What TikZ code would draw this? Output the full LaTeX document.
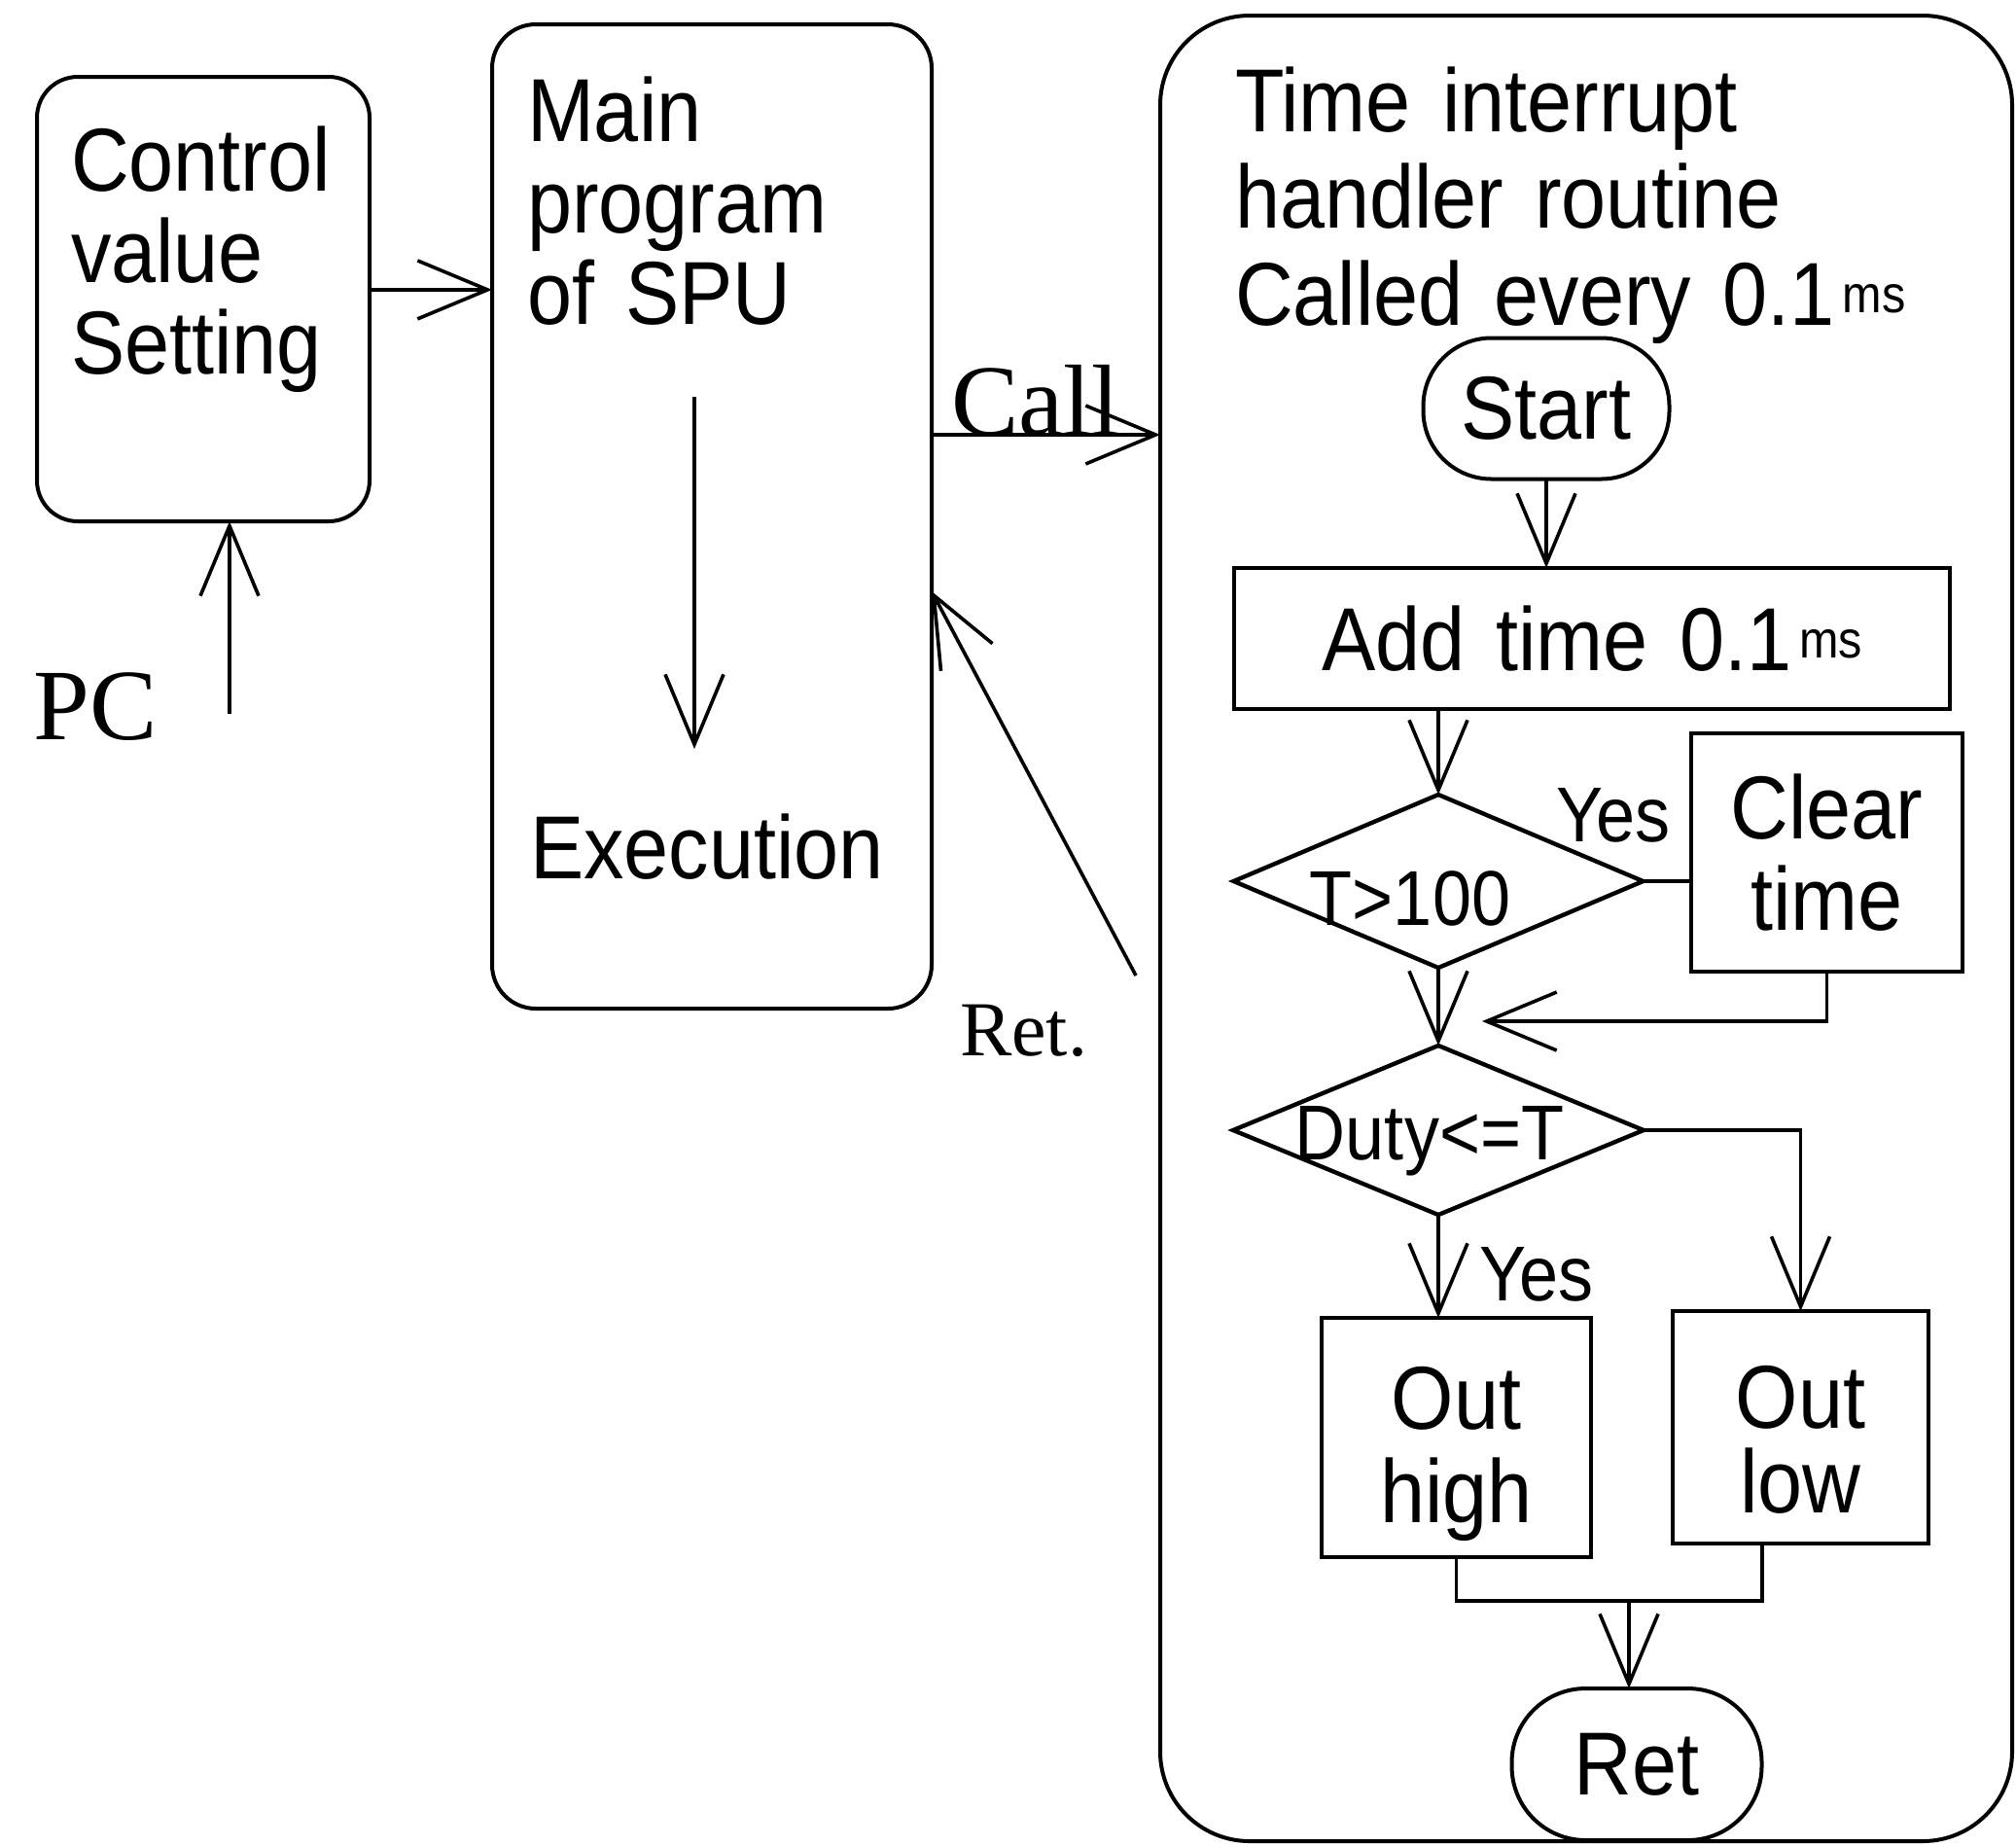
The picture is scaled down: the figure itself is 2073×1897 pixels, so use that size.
\documentclass[tikz,border=0pt]{standalone}
\usepackage{fontspec}
\setmainfont[FakeStretch=0.9,WordSpace=1.4]{Liberation Sans}
\newfontfamily\labelserif{Liberation Serif}
\usetikzlibrary{arrows.meta,shapes.geometric}
% small raised unit after a time value
\newcommand\msunit{\hspace{2pt}\raisebox{3.25pt}{\fontsize{13.5}{14}\selectfont ms}}

\begin{document}
\begin{tikzpicture}[x=0.25pt,y=-0.25pt]
\tikzset{
  box/.style={draw, line width=1pt, inner sep=0pt, outer sep=0pt},
  rbox/.style={box, rounded corners=#1},
  decision/.style={diamond, draw, line width=1.1pt, inner sep=0pt, outer sep=0pt},
  flow/.style={line width=0.9pt},
  arr/.style={flow, -{Straight Barb[length=18pt,width=15pt]}},
  big/.style={font=\fontsize{23}{23.6}\selectfont},
  mid/.style={font=\fontsize{20}{21}\selectfont},
  lbl/.style={inner sep=0pt, outer sep=0pt},
  serifbig/.style={font=\labelserif\fontsize{26}{28}\selectfont},
  serifsmall/.style={font=\labelserif\fontsize{20}{22}\selectfont},
}
\useasboundingbox (0,0) rectangle (2073,1897);

% ---- outer blocks ----
\node[rbox=10.5pt, minimum width=85.5pt, minimum height=114.25pt] (ctrl) at (209,307.5) {};
\node[rbox=11.25pt, minimum width=113pt, minimum height=253pt] (main) at (732,531) {};
\node[rbox=23pt, minimum width=219pt, minimum height=469.25pt] (isr) at (1631,954.5) {};

% ---- interrupt routine flowchart ----
\node[rbox=17.5pt, big, minimum width=63.25pt, minimum height=36.25pt] (start) at (1590,420) {Start};
\node[box, big, minimum width=184pt, minimum height=36.25pt] (add) at (1637,656.5) {Add time 0.1\msunit};
\node[decision, minimum width=105.25pt, minimum height=44.5pt] (d1) at (1479,906) {};
\node[box, big, align=center, minimum width=69.75pt, minimum height=61.25pt] (clear) at (1878.5,876.5) {Clear\\time};
\node[decision, minimum width=105.5pt, minimum height=43.5pt] (d2) at (1479,1162) {};
\node[box, minimum width=69.25pt, minimum height=61.5pt] (high) at (1497.5,1478) {};
\node[box, minimum width=65.75pt, minimum height=59.75pt] (low) at (1851.5,1467.5) {};
\node[rbox=19pt, big, minimum width=64.25pt, minimum height=39pt] (ret) at (1683,1814) {Ret};

% ---- texts ----
\node[lbl, big, align=left, anchor=north west] (ctrltxt) at (73,116) {\rule{0pt}{20pt}Control\\value\\Setting};
\node[lbl, big, align=left, anchor=north west] (maintxt) at (542,65) {\rule{0pt}{20pt}Main\\program\\of SPU};
\node[lbl, big, anchor=base west] (exec) at (545,903) {Execution};
\node[lbl, font=\fontsize{23}{24.9}\selectfont, align=left, anchor=north west] (title) at (1270,55)
  {\rule{0pt}{20pt}Time interrupt\\handler routine\\Called every 0.1\msunit};
\node[lbl, mid, anchor=base] (cond1) at (1450,951) {T>100};
\node[lbl, mid, anchor=base west] (yes1) at (1600,865) {Yes};
\node[lbl, mid, anchor=base] (cond2) at (1470,1192) {Duty<=T};
\node[lbl, mid, anchor=base west] (yes2) at (1521,1337) {Yes};
\node[lbl, font=\fontsize{23}{24}\selectfont, align=center, anchor=north] (hightxt) at (1497.5,1389) {\rule{0pt}{20pt}Out\\high};
\node[lbl, font=\fontsize{23}{21.75}\selectfont, align=center, anchor=north] (lowtxt) at (1851.5,1388) {\rule{0pt}{20pt}Out\\low};
\node[lbl, serifbig, anchor=base west] (pc) at (35,760) {PC};
\node[lbl, serifbig, anchor=base west] (call) at (978,447) {Call};
\node[lbl, serifsmall, anchor=base west] (rettxt) at (987,1085) {Ret.};

% ---- connectors ----
\draw[arr] ([yshift=2.4pt]ctrl.east) -- ([yshift=2.4pt]ctrl.east -| main.west);
\coordinate (pcfoot) at (236,734);
\draw[arr] (pcfoot) -- (pcfoot |- ctrl.south);
\coordinate (flowtop) at (714,408);
\coordinate (flowend) at (714,770);
\draw[arr] (flowtop) -- (flowend);
\coordinate (callfrom) at (main.east |- 0,447);
\draw[arr] (callfrom) -- (callfrom -| isr.west);
\coordinate (retfrom) at (1168,1003);
\coordinate (retto) at (main.east |- 0,608);
\draw[arr] (retfrom) -- (retto);

\draw[arr] (start.south) -- (start.south |- add.north);
\draw[arr] (d1.north |- add.south) -- (d1.north);
\draw[flow] (d1.east) -- (d1.east -| clear.west);
\coordinate (merge) at (1524,1050);
\draw[arr] (clear.south) |- (merge);
\draw[arr] (d1.south) -- (d2.north);
\draw[arr] (d2.east) -| (low.north);
\draw[arr] (d2.south) -- (d2.south |- high.north);
\coordinate (joinR) at (1812,1646);
\coordinate (joinM) at (1675,1646);
\draw[flow] (high.south) |- (joinR) -- (joinR |- low.south);
\draw[arr] (joinM) -- (joinM |- ret.north);
\end{tikzpicture}
\end{document}
